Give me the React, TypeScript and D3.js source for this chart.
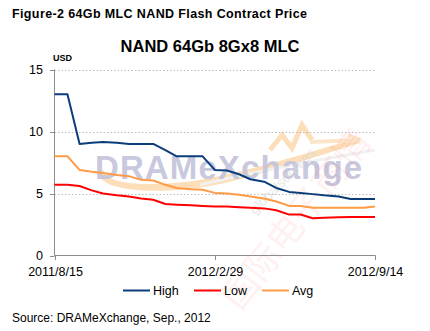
import React from "react";
import * as d3 from "d3";

const dates = [
  "2011-08-15", "2011-08-31", "2011-09-15", "2011-09-30", "2011-10-14", "2011-10-31",
  "2011-11-15", "2011-11-30", "2011-12-15", "2011-12-30", "2012-01-13", "2012-01-31",
  "2012-02-14", "2012-02-29", "2012-03-15", "2012-03-30", "2012-04-13", "2012-04-30",
  "2012-05-15", "2012-05-31", "2012-06-14", "2012-06-29", "2012-07-13", "2012-07-31",
  "2012-08-15", "2012-08-31", "2012-09-14",
];
const high = [13, 13, 9.0, 9.1, 9.15, 9.1, 9.0, 9.0, 9.0, 8.5, 8.0, 8.0, 8.0, 6.9, 6.85, 6.55, 6.15, 5.95, 5.45, 5.13, 5.05, 4.95, 4.85, 4.75, 4.55, 4.55, 4.55];
const low = [5.7, 5.7, 5.6, 5.25, 5.0, 4.85, 4.75, 4.6, 4.5, 4.15, 4.1, 4.05, 4.0, 3.95, 3.95, 3.9, 3.85, 3.8, 3.65, 3.3, 3.3, 3.0, 3.05, 3.08, 3.1, 3.1, 3.1];
const avg = [8.0, 8.0, 6.9, 6.75, 6.65, 6.5, 6.4, 6.1, 6.05, 5.7, 5.45, 5.35, 5.3, 5.05, 5.0, 4.9, 4.75, 4.6, 4.35, 4.0, 4.0, 3.85, 3.85, 3.85, 3.85, 3.85, 3.95];
const yTicks = [0, 5, 10, 15];
const xTickLabels = ["2011/8/15", "2012/2/29", "2012/9/14"];
const seriesNames = ["High", "Low", "Avg"];
const seriesColors = ["#0b3d7b", "#ff0000", "#ff9a45"];

const FONT = "'Liberation Sans', Arial, sans-serif";

export default function App() {
  const parse = d3.timeParse("%Y-%m-%d");
  const parseTick = d3.timeParse("%Y/%m/%d");
  const x = d3
    .scaleTime()
    .domain([parse(dates[0])!, parse(dates[dates.length - 1])!])
    .range([54.5, 375]);
  const y = d3.scaleLinear().domain([0, 15]).range([255.5, 69.5]);
  const series = [high, low, avg];
  const line = d3
    .line<[Date, number]>()
    .x((d) => x(d[0]))
    .y((d) => y(d[1]));

  return (
    <svg width={430} height={331} style={{ position: "absolute", left: 0, top: 0, background: "#fff" }}>
      <rect width={430} height={331} fill="#fff" />
      <text x={12} y={18} fontFamily={FONT} fontWeight="bold" fontSize={12.5} fill="#000" textLength={295}>
        Figure-2 64Gb MLC NAND Flash Contract Price
      </text>
      <text x={210} y={52} textAnchor="middle" fontFamily={FONT} fontWeight="bold" fontSize={16.5} fill="#000">
        NAND 64Gb 8Gx8 MLC
      </text>
      <text x={53} y={61} fontFamily={FONT} fontWeight="bold" fontSize={9} fill="#000">
        USD
      </text>

      {/* watermark */}
      <g opacity={0.35}>
        <path
          d="M 100 172 C 96 190, 150 196, 210 186 C 260 176, 310 158, 360 143 L 358 138 C 310 152, 260 168, 210 178 C 160 188, 104 186, 104 170 Z"
          fill="#f7a23a"
        />
        <path d="M 270 150 L 282 135 L 292 148 L 302 125 L 312 140" fill="none" stroke="#f7a23a" strokeWidth={5} />
        <path d="M 310 142 L 360 140 L 348 135" fill="none" stroke="#f7b86a" strokeWidth={4} />
        <path d="M 200 185 C 260 170, 320 160, 375 150" fill="none" stroke="#d8d8d8" strokeWidth={3} />
      </g>
      <text x={95} y={179} fontFamily={FONT} fontWeight="bold" fontSize={33} fill="#c3c3db" opacity={0.9} textLength={267}>
        DRAMeXchange
      </text>
      <text
        x={0}
        y={0}
        transform="translate(255,215) rotate(-45)"
        fontFamily={FONT}
        fontSize={14}
        fill="#d8d8d8"
        opacity={0.6}
      >
        globalsources
      </text>
      <text
        x={0}
        y={0}
        transform="translate(240,312) rotate(-52)"
        fontFamily="'Noto Sans CJK SC', sans-serif"
        fontSize={36}
        fill="#ff0000"
        opacity={0.05}
      >
        国际电子商情
      </text>

      {/* grid */}
      {yTicks.filter((t) => t > 0).map((t) => (
        <line key={t} x1={54.5} x2={375} y1={Math.round(y(t)) + 0.5} y2={Math.round(y(t)) + 0.5} stroke="#bdbdbd" strokeDasharray="1.5,2" />
      ))}
      {/* axes */}
      <line x1={54.5} x2={54.5} y1={69.5} y2={255.5} stroke="#8c8c8c" />
      <line x1={54.5} x2={375.5} y1={255.5} y2={255.5} stroke="#8c8c8c" />
      {yTicks.map((t) => (
        <g key={t}>
          <line x1={50} x2={54.5} y1={Math.round(y(t)) + 0.5} y2={Math.round(y(t)) + 0.5} stroke="#8c8c8c" />
          <text x={43} y={y(t) + 4.5} textAnchor="end" fontFamily={FONT} fontSize={12.5} fill="#000">
            {t}
          </text>
        </g>
      ))}
      {xTickLabels.map((l) => {
        const xx = Math.round(x(parseTick(l)!)) + 0.5;
        return (
          <g key={l}>
            <line x1={xx} x2={xx} y1={255.5} y2={260} stroke="#8c8c8c" />
            <text x={xx} y={276} textAnchor="middle" fontFamily={FONT} fontSize={12.5} fill="#000">
              {l}
            </text>
          </g>
        );
      })}

      {/* lines */}
      {series.map((s, si) => (
        <path
          key={si}
          d={line(s.map((v, i) => [parse(dates[i])!, v] as [Date, number]))!}
          fill="none"
          stroke={seriesColors[si]}
          strokeWidth={2}
          strokeLinejoin="round"
        />
      ))}

      {/* legend */}
      {seriesNames.map((n, i) => {
        const lx = [123, 194, 262][i];
        return (
          <g key={n}>
            <line x1={lx} x2={lx + 27} y1={290.5} y2={290.5} stroke={seriesColors[i]} strokeWidth={2} />
            <text x={lx + 30} y={295} fontFamily={FONT} fontSize={12.5} fill="#000">
              {n}
            </text>
          </g>
        );
      })}

      <text x={12} y={322} fontFamily={FONT} fontSize={12} fill="#000">
        Source: DRAMeXchange, Sep., 2012
      </text>
    </svg>
  );
}
